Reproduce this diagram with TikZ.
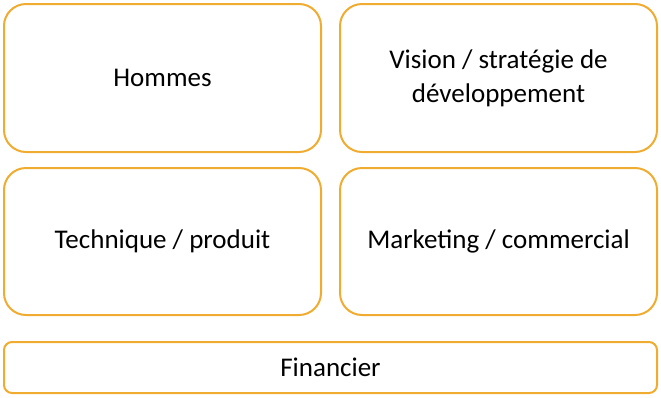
\documentclass[tikz,border=0pt]{standalone}
\usepackage{fontspec}
\setmainfont{Carlito}
\usetikzlibrary{positioning}
\definecolor{boxorange}{RGB}{240,172,48}

\begin{document}
\begin{tikzpicture}[x=1pt,y=-1pt]
\tikzset{
  area/.style={draw=boxorange,line width=2pt,rounded corners=22pt,minimum width=317pt,minimum height=148pt,align=center,font=\fontsize{27}{34}\selectfont,inner sep=0pt},
  basebar/.style={draw=boxorange,line width=2pt,rounded corners=8pt,minimum width=653pt,minimum height=51pt,font=\fontsize{27}{34}\selectfont,inner sep=0pt}
}
\useasboundingbox (0,0) rectangle (661,397);

\node (hommes) at (162.5,78) [area] {Hommes};
\node (vision) at (498.5,78) [area] {Vision / stratégie de\\développement};
\node (technique) at (162.5,241.5) [area,minimum height=147pt] {Technique / produit};
\node (marketing) at (498.5,241.5) [area,minimum height=147pt] {Marketing / commercial};
\node (financier) at (330.5,367.5) [basebar] {Financier};
\end{tikzpicture}
\end{document}
